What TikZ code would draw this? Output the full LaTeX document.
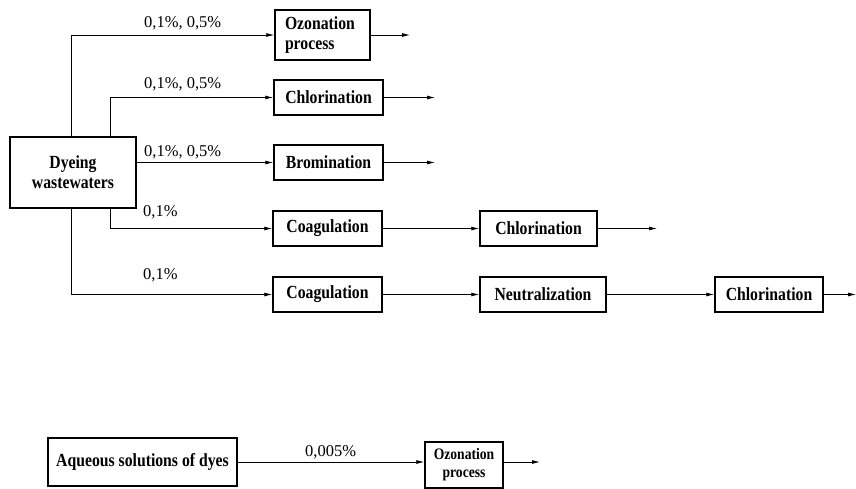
\documentclass[tikz,border=0pt]{standalone}
\usepackage{fontspec}
\setmainfont{Liberation Serif}
\newfontfamily\stagefont[FakeStretch=0.85]{Liberation Serif}
\usetikzlibrary{arrows.meta}

\begin{document}
\begin{tikzpicture}[x=1pt,y=-1pt,
	stage/.style={draw,line width=1.5pt,inner sep=0pt,align=center,
		minimum height=35pt,font=\stagefont\bfseries\fontsize{18.5}{20}\selectfont},
	flow/.style={line width=0.8pt,-{Latex[length=8pt,width=4pt]}},
	dose/.style={anchor=base west,inner sep=0pt,font=\fontsize{16.5}{18}\selectfont}]

	\useasboundingbox (0,0) rectangle (856,488);

	% treatment of the wastewaters
	\node[stage,minimum width=126pt,minimum height=71pt] (dye) at (73,172.5) {Dyeing\\wastewaters};
	\node[stage,minimum width=95pt,minimum height=50pt,text width=75pt,align=left] (ozo) at (322.5,35) {Ozonation\\process};
	\node[stage,minimum width=109pt] (chlA) at (328.5,97.5) {Chlorination};
	\node[stage,minimum width=109pt] (bro) at (328.5,162.5) {Bromination};
	\node[stage,minimum width=109pt] (coaA) at (327.5,228.5) {Coagulation};
	\node[stage,minimum width=117pt] (chlB) at (538.5,228.5) {Chlorination};
	\node[stage,minimum width=109pt] (coaB) at (327.5,294.5) {Coagulation};
	\node[stage,minimum width=126pt] (neu) at (543,294.5) {Neutralization};
	\node[stage,minimum width=108pt] (chlC) at (769,294.5) {Chlorination};

	\coordinate (outO) at (410,35);
	\coordinate (outA) at (435,97.5);
	\coordinate (outB) at (435,162.5);
	\coordinate (outC) at (657,228.5);
	\coordinate (outD) at (856,294.5);

	\draw[flow] ([xshift=-2pt]dye.north) |- (ozo.west);
	\draw[flow] ([xshift=37pt]dye.north) |- (chlA.west);
	\draw[flow] (dye.east |- bro.west) -- (bro.west);
	\draw[flow] ([xshift=37pt]dye.south) |- (coaA.west);
	\draw[flow] ([xshift=-2pt]dye.south) |- (coaB.west);
	\draw[flow] (coaA.east) -- (chlB.west);
	\draw[flow] (coaB.east) -- (neu.west);
	\draw[flow] (neu.east) -- (chlC.west);
	\draw[flow] (ozo.east) -- (outO);
	\draw[flow] (chlA.east) -- (outA);
	\draw[flow] (bro.east) -- (outB);
	\draw[flow] (chlB.east) -- (outC);
	\draw[flow] (chlC.east) -- (outD);

	\node[dose] (dOzo) at (144,27) {0,1\%, 0,5\%};
	\node[dose] (dChl) at (144,88) {0,1\%, 0,5\%};
	\node[dose] (dBro) at (144,156) {0,1\%, 0,5\%};
	\node[dose] (dCoaA) at (143,216) {0,1\%};
	\node[dose] (dCoaB) at (143,279) {0,1\%};

	% aqueous solutions
	\node[stage,minimum width=189pt,minimum height=48pt] (aq) at (142.5,462) {Aqueous solutions of dyes};
	\node[stage,minimum width=78pt,minimum height=46pt,font=\stagefont\bfseries\fontsize{16}{18}\selectfont] (ozoB) at (464,465) {Ozonation\\ process};
	\coordinate (outE) at (540,462);
	\draw[flow] (aq.east) -- (aq.east -| ozoB.west);
	\draw[flow] (ozoB.east |- outE) -- (outE);
	\node[dose] (dAq) at (305,456) {0,005\%};

\end{tikzpicture}
\end{document}
